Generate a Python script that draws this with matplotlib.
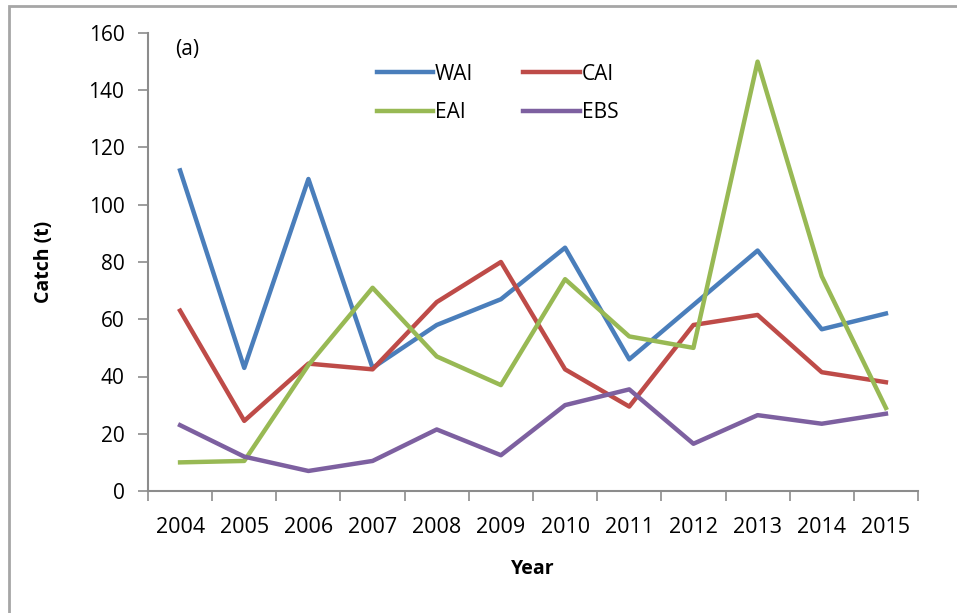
import matplotlib.pyplot as plt
from matplotlib.patches import Rectangle

years = ["2004", "2005", "2006", "2007", "2008", "2009",
         "2010", "2011", "2012", "2013", "2014", "2015"]
wai = [112, 43, 109, 43, 58, 67, 85, 46, 65, 84, 56.5, 62]
cai = [63, 24.5, 44.5, 42.5, 66, 80, 42.5, 29.5, 58, 61.5, 41.5, 38]
eai = [10, 10.5, 44, 71, 47, 37, 74, 54, 50, 150, 75, 29]
ebs = [23, 12, 7, 10.5, 21.5, 12.5, 30, 35.5, 16.5, 26.5, 23.5, 27]

series = [("WAI", wai, "#4A7EBB"), ("CAI", cai, "#BE4B48"),
          ("EAI", eai, "#98B954"), ("EBS", ebs, "#7D60A0")]

plt.rcParams["font.family"] = ["Open Sans", "DejaVu Sans"]

W, H = 957, 613
fig = plt.figure(figsize=(W / 100, H / 100), dpi=100)
ax = fig.add_axes([148 / W, 1 - 491 / H, (918 - 148) / W, (491 - 33) / H])

# chart-area frame (Excel style), right/bottom edges fall off the image
fig.patches.append(Rectangle((9 / W, -0.05), 1.1, 1 - 6 / H + 0.05,
                             transform=fig.transFigure, fill=False,
                             edgecolor="#A6A6A6", linewidth=2))

x = list(range(len(years)))
lines = {}
for name, vals, color in series:
    lines[name], = ax.plot(x, vals, color=color, linewidth=3.2, label=name)

ax.set_xlim(-0.5, len(years) - 0.5)
ax.set_ylim(0, 160)
ax.set_yticks(range(0, 161, 20))
ax.set_xticks(x)
ax.set_xticklabels(years)
ax.set_xticks([i - 0.5 for i in range(len(years) + 1)], minor=True)
ax.tick_params(axis="x", which="major", length=0, pad=19, labelsize=15.5)
ax.tick_params(axis="x", which="minor", length=7, color="#8C8C8C", width=1.2)
ax.tick_params(axis="y", length=7, color="#8C8C8C", width=1.2,
               labelsize=15, pad=10)

for s in ["top", "right"]:
    ax.spines[s].set_visible(False)
for s in ["left", "bottom"]:
    ax.spines[s].set_color("#8C8C8C")
    ax.spines[s].set_linewidth(1.5)

ax.set_xlabel("Year", fontsize=14, fontweight="bold", labelpad=15)
ax.set_ylabel("Catch (t)", fontsize=14, fontweight="bold", labelpad=25)

fig.text(175 / W, 1 - 50 / H, "(a)", fontsize=15, ha="left", va="center")

# matplotlib fills legend columns first: order so rows read WAI/CAI, EAI/EBS
order = ["WAI", "EAI", "CAI", "EBS"]
ax.legend([lines[n] for n in order], order, ncol=2, loc="upper left",
          bbox_to_anchor=(358 / W, 1 - 45 / H),
          bbox_transform=fig.transFigure, frameon=False, fontsize=15,
          handlelength=2.7, handletextpad=0.1, columnspacing=2.4,
          labelspacing=0.85)

fig.savefig("out.png", dpi=100)
